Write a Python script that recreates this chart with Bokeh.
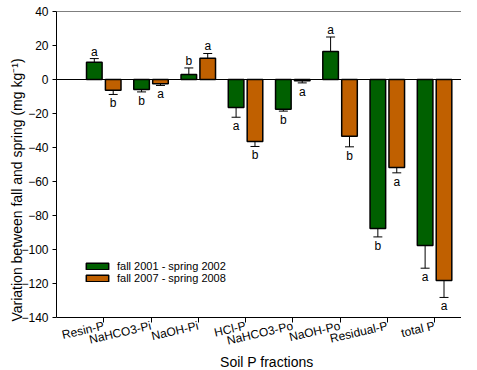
from bokeh.plotting import figure
from bokeh.models import FixedTicker, Span, ColumnDataSource, Legend, LegendItem, Label
from bokeh.core.properties import value
from bokeh.embed import file_html
from bokeh.resources import INLINE

categories = ["Resin-P", "NaHCO3-Pi", "NaOH-Pi", "HCl-P", "NaHCO3-Po", "NaOH-Po", "Residual-P", "total P"]
fall2001 = [10.2, -5.9, 2.9, -16.5, -17.5, 16.5, -87.7, -97.6]
fall2001_err = [2.1, 1.4, 3.9, 5.7, 1.1, 8.5, 4.9, 13.4]
fall2001_letters = ["a", "b", "b", "a", "b", "a", "b", "a"]
fall2007 = [-6.3, -2.5, 12.5, -36.5, -0.8, -33.4, -51.8, -118.2]
fall2007_err = [2.5, 1.0, 2.8, 2.9, 1.2, 6.2, 3.1, 10.0]
fall2007_letters = ["b", "a", "a", "b", "a", "b", "a", "a"]
series_names = ["fall 2001 - spring 2002", "fall 2007 - spring 2008"]
y_ticks = [40, 20, 0, -20, -40, -60, -80, -100, -120, -140]
x_title = "Soil P fractions"
y_title = "Variation between fall and spring (mg kg\u207b\u00b9)"

FONT = "Liberation Sans"
colors = ["#006000", "#C06000"]
offsets = [-0.2, 0.2]
bw = 0.33
cap = 0.095
Y0, Y1 = -140, 40
H = 368
TOP = 11
PX_PER_UNIT = 306 / (Y1 - Y0)
Y_BOTTOM = Y1 - (H - TOP) / PX_PER_UNIT   # frame extends below the x axis to hold labels/title

p = figure(width=461, height=H, output_backend="svg", toolbar_location=None,
           x_range=(0, 8.57), y_range=(Y_BOTTOM, Y1),
           min_border_left=56, min_border_right=0, min_border_top=TOP, min_border_bottom=0)
p.background_fill_color = None
p.border_fill_color = None
p.outline_line_color = None
p.grid.visible = False

renderers = []
for vals, errs, letters, col, off in [(fall2001, fall2001_err, fall2001_letters, colors[0], offsets[0]),
                                      (fall2007, fall2007_err, fall2007_letters, colors[1], offsets[1])]:
    xs = [i + 1 + off for i in range(len(categories))]
    ends = [v + e if v >= 0 else v - e for v, e in zip(vals, errs)]
    src = ColumnDataSource(dict(x=xs, top=[max(v, 0) for v in vals], bottom=[min(v, 0) for v in vals],
                                v=vals, end=ends, cl=[x - cap for x in xs], cr=[x + cap for x in xs]))
    r = p.vbar(x="x", width=bw, top="top", bottom="bottom", source=src,
               fill_color=col, line_color="black", line_width=1.5)
    renderers.append(r)
    p.segment(x0="x", y0="v", x1="x", y1="end", source=src, line_color="black", line_width=1)
    p.segment(x0="cl", y0="end", x1="cr", y1="end", source=src, line_color="black", line_width=1)
    up = [(x, e, t) for x, v, e, t in zip(xs, vals, ends, letters) if v >= 0]
    dn = [(x, e, t) for x, v, e, t in zip(xs, vals, ends, letters) if v < 0]
    if up:
        p.text(x=[u[0] for u in up], y=[u[1] for u in up], text=[u[2] for u in up],
               text_align="center", text_baseline="bottom", y_offset=0,
               text_font=value(FONT), text_font_size="12px", text_color="black")
    if dn:
        p.text(x=[d[0] for d in dn], y=[d[1] for d in dn], text=[d[2] for d in dn],
               text_align="center", text_baseline="top", y_offset=2,
               text_font=value(FONT), text_font_size="12px", text_color="black")

p.add_layout(Span(location=0, dimension="width", line_color="black", line_width=1))
p.add_layout(Span(location=Y1, dimension="width", line_color="black", line_width=1.2))

# axes
p.xaxis.ticker = FixedTicker(ticks=list(range(1, len(categories) + 1)))
p.xaxis.major_label_overrides = {i + 1: c for i, c in enumerate(categories)}
p.xaxis.major_label_orientation = 0.23
p.xaxis.fixed_location = Y0
p.yaxis.ticker = FixedTicker(ticks=y_ticks)
p.yaxis.bounds = (Y0, Y1)
for ax in (p.xaxis[0], p.yaxis[0]):
    ax.axis_line_color = "black"
    ax.axis_line_width = 1
    ax.major_tick_line_color = "black"
    ax.major_tick_in = 0
    ax.major_tick_out = 4
    ax.minor_tick_line_color = None
    ax.major_label_text_font = FONT
    ax.major_label_text_font_size = "12px"
    ax.major_label_text_color = "black"
    ax.axis_label_text_font = FONT
    ax.axis_label_text_font_style = "normal"
    ax.axis_label_text_font_size = "14px"
    ax.axis_label_text_color = "black"
p.xaxis.major_tick_out = 5
p.xaxis.major_label_standoff = 3
p.yaxis.major_label_standoff = 4
p.yaxis.axis_label = y_title
p.yaxis.axis_label_standoff = -7

p.add_layout(Label(x=4.45, y=Y0 - 44 / PX_PER_UNIT, text=x_title, text_align="center",
                   text_baseline="middle", text_font=FONT, text_font_size="14px", text_color="black"))

legend = Legend(items=[LegendItem(label=series_names[0], renderers=[renderers[0]]),
                       LegendItem(label=series_names[1], renderers=[renderers[1]])],
                location=(27, 84), orientation="vertical",
                glyph_width=28, glyph_height=8, label_height=12, label_standoff=6,
                padding=0, spacing=-2, margin=0,
                border_line_color=None, background_fill_alpha=0,
                label_text_font=FONT, label_text_font_size="11px", label_text_color="black")
p.add_layout(legend, "center")

open("out.html", "w").write(file_html(p, INLINE))
